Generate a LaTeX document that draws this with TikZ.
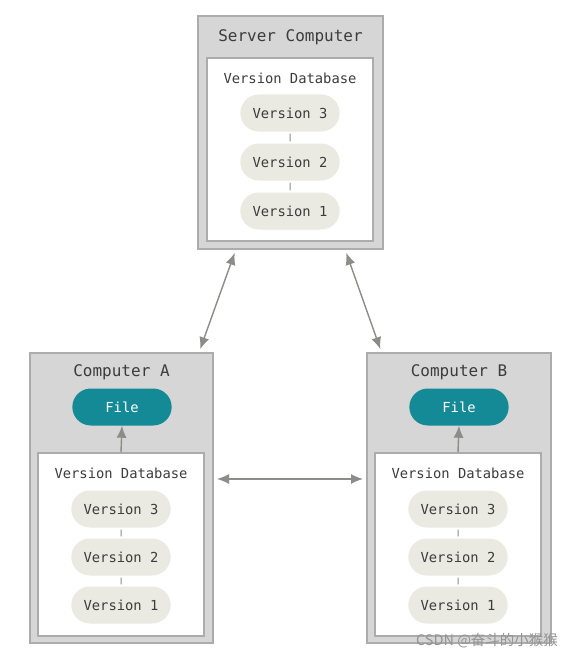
\documentclass[tikz,border=0pt]{standalone}
\usepackage{fontspec}
\setmonofont{DejaVu Sans Mono}
\newfontfamily\cjk{Noto Sans CJK SC}
\usetikzlibrary{shapes.misc,arrows.meta}
\definecolor{boxgray}{RGB}{214,214,214}
\definecolor{edgegray}{RGB}{172,172,172}
\definecolor{pillgray}{RGB}{234,234,226}
\definecolor{textgray}{RGB}{60,60,60}
\definecolor{arrowgray}{RGB}{140,140,136}
\definecolor{fileteal}{RGB}{20,138,150}
\tikzstyle{computer}=[draw=edgegray, fill=boxgray, line width=2pt]
\tikzstyle{database}=[draw=edgegray, fill=white, line width=1.6pt, minimum width=166pt, minimum height=183pt]
\tikzstyle{title}=[text=textgray, font=\ttfamily\fontsize{16}{18}\selectfont]
\tikzstyle{dbtitle}=[text=textgray, font=\ttfamily\fontsize{13.8}{16}\selectfont]
\tikzstyle{version}=[rounded rectangle, fill=pillgray, minimum width=106pt, minimum height=37pt, text=textgray, font=\ttfamily\fontsize{13.8}{16}\selectfont]
\tikzstyle{file}=[rounded rectangle, fill=fileteal, minimum width=106pt, minimum height=37pt, text=white, font=\ttfamily\fontsize{13.8}{16}\selectfont]
\tikzstyle{link}=[draw=arrowgray, line width=1.4pt, {Latex[length=12pt,width=10pt]}-{Latex[length=12pt,width=10pt]}, shorten >=3pt, shorten <=3pt]

\begin{document}
\begin{tikzpicture}[x=1pt, y=-1pt]
	\fill[white] (0,0) rectangle (575,658);
	% nodes
	 \node [computer, minimum width=185pt, minimum height=233pt] (srv) at (290.5,132.5) {};
	 \node [title] (srvt) at (290.5,37) {Server Computer};
	 \node [database] (sdb) at (290,149.5) {};
	 \node [dbtitle] at (290,78) {Version Database};
	 \node [version] (s3) at (290,113) {Version 3};
	 \node [version] (s2) at (290,162) {Version 2};
	 \node [version] (s1) at (290,211) {Version 1};

	 \node [computer, minimum width=183pt, minimum height=290pt] (ca) at (121.5,498) {};
	 \node [title] at (121.5,372) {Computer A};
	 \node [file] (af) at (122,407) {File};
	 \node [database] (adb) at (121,544.5) {};
	 \node [dbtitle] at (121,473) {Version Database};
	 \node [version] (a3) at (121,509) {Version 3};
	 \node [version] (a2) at (121,557) {Version 2};
	 \node [version] (a1) at (121,605) {Version 1};

	 \node [computer, minimum width=184pt, minimum height=290pt] (cb) at (459,498) {};
	 \node [title] at (459,372) {Computer B};
	 \node [file] (bf) at (459,407) {File};
	 \node [database] (bdb) at (458,544.5) {};
	 \node [dbtitle] at (458,473) {Version Database};
	 \node [version] (b3) at (458,509) {Version 3};
	 \node [version] (b2) at (458,557) {Version 2};
	 \node [version] (b1) at (458,605) {Version 1};

	 \node [text=gray!85, font=\cjk\fontsize{14.5}{17}\selectfont] at (487,641) {CSDN @奋斗的小猴猴};

	 % arrows
	 \draw [link] (srv.245) -- (ca.62);
	 \draw [link] (srv.295) -- (cb.118);
	 \draw [link] ([yshift=19pt]ca.east) -- ([yshift=19pt]cb.west);

	 \draw [draw=arrowgray, line width=1.4pt, -{Latex[length=12pt,width=10pt]}] (adb.north) -- (af.south);
	 \draw [draw=arrowgray, line width=1.4pt, -{Latex[length=12pt,width=10pt]}] (bdb.north) -- (bf.south);

	 \foreach \u/\l in {s3/s2, s2/s1, a3/a2, a2/a1, b3/b2, b2/b1}
	   \draw [draw=arrowgray, line width=1pt, shorten >=2pt, shorten <=2pt] (\u) -- (\l);
\end{tikzpicture}
\end{document}
